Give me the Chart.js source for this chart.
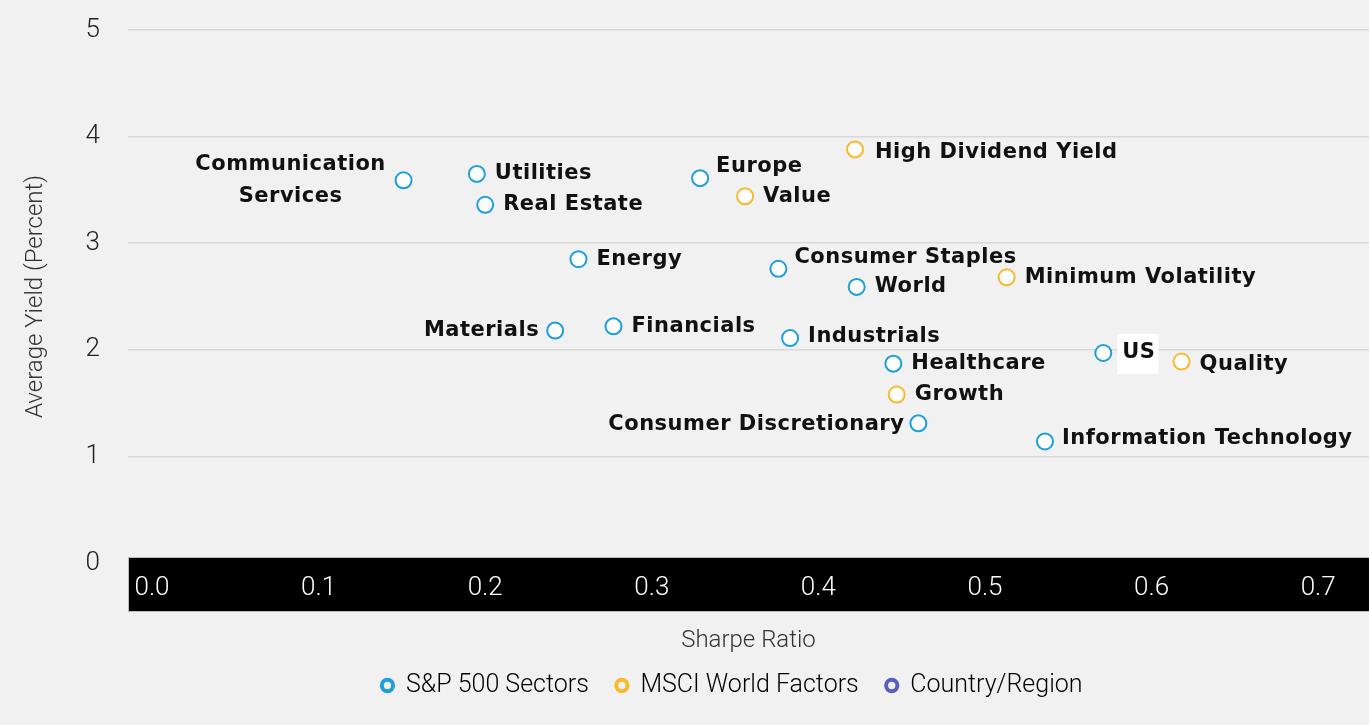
<!DOCTYPE html>
<html>
<head>
<meta charset="utf-8">
<title>Yield vs Sharpe Ratio</title>
<script src="https://cdn.jsdelivr.net/npm/chart.js@4.4.0/dist/chart.umd.min.js"></script>
<style>
  html, body { margin: 0; padding: 0; background: #f1f1f1; overflow: hidden; }
  #wrap { width: 1369px; height: 725px; position: relative; }
  #wrap canvas { display: block; }
</style>
</head>
<body>
<div id="wrap"><canvas id="yieldChart"></canvas></div>
<script>
// S&P 500 sectors
var sectorNames = ['Communication Services', 'Utilities', 'Real Estate', 'Energy', 'Materials',
  'Financials', 'Consumer Staples', 'Industrials', 'Healthcare', 'Consumer Discretionary',
  'Information Technology'];
var sectorSharpe = [0.151, 0.195, 0.200, 0.256, 0.242, 0.277, 0.376, 0.383, 0.445, 0.460, 0.536];
var sectorYield = [3.59, 3.65, 3.36, 2.85, 2.18, 2.22, 2.76, 2.11, 1.87, 1.31, 1.14];

// MSCI World factors
var factorNames = ['High Dividend Yield', 'Value', 'Minimum Volatility', 'Growth', 'Quality'];
var factorSharpe = [0.422, 0.356, 0.513, 0.447, 0.618];
var factorYield = [3.88, 3.44, 2.68, 1.58, 1.89];

// Country / region
var regionNames = ['Europe', 'World', 'US'];
var regionSharpe = [0.329, 0.423, 0.571];
var regionYield = [3.61, 2.59, 1.97];

var xTickValues = [0, 0.1, 0.2, 0.3, 0.4, 0.5, 0.6, 0.7];
var yTickValues = [0, 1, 2, 3, 4, 5];
var legendNames = ['S&P 500 Sectors', 'MSCI World Factors', 'Country/Region'];

var BLUE = '#1c9fdc';
var GOLD = '#f9b92c';
var PURPLE = '#5b5cc0';
var BG = '#f1f1f1';

// where each label sits relative to its marker
var labelPlacement = {
  'Communication Services': { align: 'center', dx: -113, dy: -16, split: true, lineGap: 32 },
  'Materials': { align: 'right', dx: -16, dy: 0 },
  'Consumer Discretionary': { align: 'right', dx: -14, dy: 1 },
  'Europe': { align: 'left', dx: 16, dy: -12 },
  'Consumer Staples': { align: 'left', dx: 16, dy: -11 },
  'High Dividend Yield': { align: 'left', dx: 20, dy: 3 },
  'Industrials': { align: 'left', dx: 18, dy: -2 },
  'Quality': { align: 'left', dx: 18, dy: 3 },
  'Information Technology': { align: 'left', dx: 17, dy: -3 },
  'US': { align: 'left', dx: 19, dy: 0, box: true }
};

function toPoints(xs, ys) {
  return xs.map(function(v, i) { return { x: v, y: ys[i] }; });
}

var backgroundAndBand = {
  id: 'backgroundAndBand',
  beforeDraw: function(chart) {
    var ctx = chart.ctx;
    var area = chart.chartArea;
    ctx.save();
    ctx.fillStyle = BG;
    ctx.fillRect(0, 0, chart.width, chart.height);
    // black band behind the x axis labels
    ctx.fillStyle = '#000';
    ctx.fillRect(area.left, area.bottom - 6, area.right - area.left, 55);
    ctx.strokeStyle = '#bbbbbb';
    ctx.lineWidth = 1;
    ctx.strokeRect(area.left + 0.5, area.bottom - 5.5, area.right - area.left, 54);
    ctx.restore();
  }
};

var pointLabels = {
  id: 'pointLabels',
  afterDatasetsDraw: function(chart) {
    var ctx = chart.ctx;
    ctx.save();
    ctx.font = 'bold 21px "DejaVu Sans"';
    ctx.letterSpacing = '0.5px';
    ctx.textBaseline = 'middle';
    chart.data.datasets.forEach(function(ds, i) {
      var meta = chart.getDatasetMeta(i);
      meta.data.forEach(function(pt, j) {
        var name = ds.names[j];
        var p = labelPlacement[name] || { align: 'left', dx: 18, dy: 0 };
        var x = pt.x + p.dx;
        var y = pt.y + p.dy;
        ctx.textAlign = p.align;
        if (p.box) {
          var w = ctx.measureText(name).width;
          ctx.fillStyle = '#ffffff';
          ctx.fillRect(x - 5, y - 19, w + 8, 40);
        }
        ctx.fillStyle = '#111111';
        if (p.split) {
          var words = name.split(' ');
          ctx.fillText(words[0], x, y);
          ctx.fillText(words.slice(1).join(' '), x, y + p.lineGap);
        } else {
          ctx.fillText(name, x, y);
        }
      });
    });
    ctx.restore();
  }
};

var legendShift = {
  id: 'legendShift',
  afterLayout: function(chart) {
    if (chart.legend) {
      chart.legend.left = 95;
      chart.legend.right = chart.width;
    }
  }
};

var ctx = document.getElementById('yieldChart').getContext('2d');

var yieldChart = new Chart(ctx, {
  type: 'scatter',
  data: {
    datasets: [{
      label: legendNames[0],
      names: sectorNames,
      data: toPoints(sectorSharpe, sectorYield),
      borderColor: BLUE,
      backgroundColor: '#ffffff',
      pointRadius: 8,
      pointHoverRadius: 8,
      borderWidth: 2
    }, {
      label: legendNames[1],
      names: factorNames,
      data: toPoints(factorSharpe, factorYield),
      borderColor: GOLD,
      backgroundColor: '#ffffff',
      pointRadius: 8,
      pointHoverRadius: 8,
      borderWidth: 2
    }, {
      label: legendNames[2],
      names: regionNames,
      data: toPoints(regionSharpe, regionYield),
      borderColor: BLUE,
      backgroundColor: '#ffffff',
      pointRadius: 8,
      pointHoverRadius: 8,
      borderWidth: 2
    }]
  },
  options: {
    responsive: true,
    maintainAspectRatio: false,
    animation: false,
    layout: { autoPadding: false, padding: { top: 30, right: 0, bottom: 17, left: 0 } },
    plugins: {
      tooltip: { enabled: false },
      legend: {
        position: 'bottom',
        labels: {
          usePointStyle: true,
          boxWidth: 12,
          boxHeight: 8,
          padding: 27,
          color: '#222222',
          font: { family: 'Roboto', size: 25, weight: '300' },
          generateLabels: function() {
            var colors = [BLUE, GOLD, PURPLE];
            return legendNames.map(function(n, i) {
              return {
                text: n,
                fillStyle: BG,
                strokeStyle: colors[i],
                lineWidth: 4,
                pointStyle: 'circle',
                hidden: false,
                datasetIndex: i
              };
            });
          }
        }
      }
    },
    scales: {
      x: {
        type: 'linear',
        min: -0.0144,
        max: 0.7305,
        afterBuildTicks: function(scale) {
          scale.ticks = xTickValues.map(function(v) { return { value: v }; });
        },
        afterFit: function(scale) {
          scale.height = 83;
          scale.paddingLeft = 0;
          scale.paddingRight = 0;
        },
        grid: { display: false, drawOnChartArea: false, drawTicks: true, tickLength: 10, tickColor: 'rgba(0,0,0,0)' },
        border: { display: false },
        ticks: {
          padding: 0,
          color: '#ffffff',
          font: { family: 'Roboto', size: 26, weight: '300' },
          callback: function(v) { return Number(v).toFixed(1); }
        },
        title: {
          display: true,
          text: 'Sharpe Ratio',
          color: '#333333',
          padding: { top: 0, bottom: -9 },
          font: { family: 'Roboto', size: 24, weight: '300' }
        }
      },
      y: {
        type: 'linear',
        min: 0,
        max: 5,
        afterBuildTicks: function(scale) {
          scale.ticks = yTickValues.map(function(v) { return { value: v }; });
        },
        afterFit: function(scale) { scale.width = 128; },
        grid: {
          drawTicks: true,
          tickLength: 28,
          tickColor: 'rgba(0,0,0,0)',
          color: function(c) { return c.tick && c.tick.value === 0 ? 'rgba(0,0,0,0)' : '#d9d9d9'; },
          lineWidth: 1.5
        },
        border: { display: false },
        ticks: {
          padding: 0,
          color: '#222222',
          font: { family: 'Roboto', size: 26, weight: '300' }
        },
        title: {
          display: true,
          text: 'Average Yield (Percent)',
          color: '#333333',
          padding: { top: 22, bottom: 0 },
          font: { family: 'Roboto', size: 24, weight: '300' }
        }
      }
    }
  },
  plugins: [backgroundAndBand, pointLabels, legendShift]
});
</script>
</body>
</html>
